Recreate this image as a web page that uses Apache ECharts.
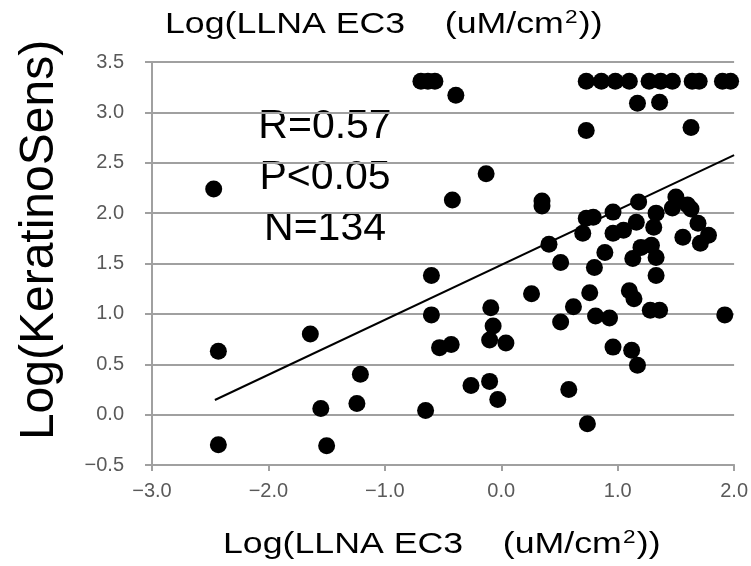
<!DOCTYPE html>
<html>
<head>
<meta charset="utf-8">
<script src="https://cdn.jsdelivr.net/npm/echarts@6/dist/echarts.min.js"></script>
<style>html,body{margin:0;padding:0;background:#fff}#c{width:751px;height:566px}</style>
</head>
<body>
<div id="c"></div>
<script>
var xVals = [
  -2.47, -2.43, -2.43, -1.64, -1.55, -1.50, -1.21, -1.24, -0.65, -0.60, -0.60, -0.53, -0.43, -0.26, -0.10, -0.03,
  -0.09, -0.07, -0.10, 0.04, -0.69, -0.63, -0.57, -0.39, -0.13, -0.42, 0.35, 0.35, 0.26, 0.41,
  0.73, 0.86, 0.98, 1.10, 1.27, 1.37, 1.47, 1.64, 1.70, 1.90, 1.97, 1.17, 1.36, 0.73, 1.63,
  0.73, 0.79, 0.70, 0.96, 1.18, 0.96, 1.05, 1.16, 1.33, 1.31, 1.50, 1.47, 1.60, 1.63, 1.69, 1.56, 1.78, 1.71,
  0.89, 0.51, 0.80, 1.13, 1.20, 1.29, 1.33, 1.33,
  0.76, 1.10, 1.14, 0.62, 0.51, 0.81, 0.93, 1.28, 1.36, 1.92, 0.96, 1.12, 1.17, 0.58, 0.74
];
var yVals = [
  2.24, 0.63, -0.30, 0.80, 0.06, -0.31, 0.40, 0.11, 0.04, 1.38, 0.99, 0.665, 0.695, 0.29, 0.33, 0.15,
  1.06, 0.88, 0.74, 0.71, 3.31, 3.31, 3.31, 3.17, 2.39, 2.13, 2.07, 2.12, 1.20, 1.69,
  3.31, 3.31, 3.31, 3.31, 3.31, 3.31, 3.31, 3.31, 3.31, 3.31, 3.31, 3.09, 3.10, 2.82, 2.85,
  1.95, 1.96, 1.80, 2.01, 2.11, 1.80, 1.83, 1.91, 2.00, 1.86, 2.16, 2.05, 2.08, 2.04, 1.90, 1.76, 1.78, 1.70,
  1.61, 1.51, 1.46, 1.55, 1.66, 1.68, 1.56, 1.38,
  1.21, 1.23, 1.15, 1.07, 0.92, 0.98, 0.96, 1.035, 1.035, 0.99, 0.67, 0.64, 0.49, 0.25, -0.09
];
var trendX = [-2.46, 2.0];
var trendY = [0.145, 2.576];
var statLines = ['R=0.57', 'P<0.05', 'N=134'];
var xTitle = 'Log(LLNA EC3    (uM/cm';
var yTitle = 'Log(KeratinoSens)';

function fmt(v) { return (v < 0 ? '\u2212' : '') + Math.abs(v).toFixed(1); }

var pts = xVals.map(function (x, i) { return [x, yVals[i]]; });
var trend = trendX.map(function (x, i) { return [x, trendY[i]]; });

var FONT = '"Liberation Sans", Arial, sans-serif';
var chart = echarts.init(document.getElementById('c'), null, { renderer: 'canvas' });

function titleText(x, y) {
  return {
    type: 'text', x: x, y: y, scaleX: 1.19, scaleY: 1,
    style: {
      text: '{a|' + xTitle + '}{s|2}{a|))}',
      rich: {
        a: { fontSize: 30, fontFamily: FONT, fill: '#000', lineHeight: 34 },
        s: { fontSize: 19, fontFamily: FONT, fill: '#000', lineHeight: 34, verticalAlign: 'top', padding: [0, 1, 0, 1] }
      },
      textAlign: 'left', textVerticalAlign: 'middle'
    }
  };
}

chart.setOption({
  animation: false,
  grid: { left: 152, right: 12, top: 62, bottom: 101 },
  xAxis: {
    type: 'value', min: -3, max: 2, interval: 1,
    axisLine: { show: true, onZero: false, lineStyle: { color: '#a0a0a0', width: 2 } },
    axisTick: { show: true, length: 6, lineStyle: { color: '#a0a0a0', width: 2 } },
    splitLine: { show: false },
    axisLabel: { formatter: fmt, color: '#595959', fontSize: 20, fontFamily: FONT, margin: 16 }
  },
  yAxis: {
    type: 'value', min: -0.5, max: 3.5, interval: 0.5,
    axisLine: { show: true, onZero: false, lineStyle: { color: '#a0a0a0', width: 2 } },
    axisTick: { show: true, length: 7, lineStyle: { color: '#a0a0a0', width: 2 } },
    splitLine: { show: true, lineStyle: { color: '#a0a0a0', width: 2 } },
    axisLabel: { formatter: fmt, color: '#595959', fontSize: 20, fontFamily: FONT, margin: 28 }
  },
  series: [
    {
      type: 'scatter', data: pts, symbol: 'circle', symbolSize: 17,
      itemStyle: { color: '#000', opacity: 1 }, z: 3
    },
    {
      type: 'line', data: trend, symbol: 'none',
      lineStyle: { color: '#000', width: 2 }, z: 2
    }
  ],
  graphic: [
    titleText(165, 25),
    titleText(223, 545),
    {
      type: 'text', x: 40, y: 240, rotation: Math.PI / 2,
      style: { text: yTitle, font: '48px ' + FONT, fill: '#000', textAlign: 'center', textVerticalAlign: 'middle' }
    },
    {
      type: 'text', x: 325, y: 127,
      style: { text: statLines[0], font: '41px ' + FONT, fill: '#000', textAlign: 'center', textVerticalAlign: 'middle' }
    },
    {
      type: 'text', x: 325, y: 178,
      style: { text: statLines[1], font: '41px ' + FONT, fill: '#000', textAlign: 'center', textVerticalAlign: 'middle' }
    },
    {
      type: 'text', x: 325, y: 229,
      style: { text: statLines[2], font: '41px ' + FONT, fill: '#000', textAlign: 'center', textVerticalAlign: 'middle' }
    }
  ]
});
</script>
</body>
</html>
